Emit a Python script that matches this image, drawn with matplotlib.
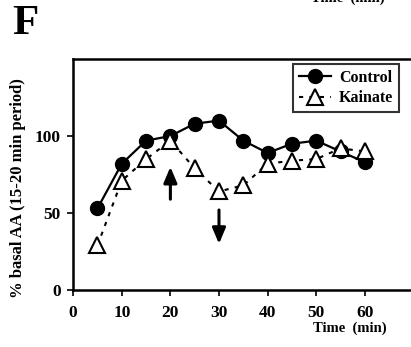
import matplotlib
matplotlib.use("Agg")
import matplotlib.pyplot as plt

# Time points (min) and % basal AA values
time_min = [5, 10, 15, 20, 25, 30, 35, 40, 45, 50, 55, 60]
control = [53, 82, 97, 100, 108, 110, 97, 89, 95, 97, 90, 83]
kainate = [29, 71, 85, 97, 79, 64, 68, 82, 84, 85, 92, 90]

x_ticks = [0, 10, 20, 30, 40, 50, 60]
y_ticks = [0, 50, 100]

# Arrows: (x, start y, end y)
up_arrow = (20, 59, 80)
down_arrow = (30, 52, 30)

serif = ["Liberation Serif", "DejaVu Serif"]
plt.rcParams["font.family"] = serif
plt.rcParams["font.weight"] = "bold"

fig = plt.figure(figsize=(4.11, 3.47), dpi=100)
ax = fig.add_axes([0.178, 0.164, 0.822, 0.666])

ax.plot(time_min, control, color="black", lw=1.6, marker="o", ms=10,
        mfc="black", mec="black", label="Control", zorder=3)
ax.plot(time_min, kainate, color="black", lw=1.5, ls=(0, (2, 3)), marker="^",
        ms=11, mfc="white", mec="black", mew=1.5, label="Kainate", zorder=4)

for (x, y0, y1) in (up_arrow, down_arrow):
    ax.annotate("", xy=(x, y1), xytext=(x, y0),
                arrowprops=dict(arrowstyle="-|>,head_length=0.95,head_width=0.4",
                                color="black", lw=2.2, shrinkA=0, shrinkB=0))

ax.set_xlim(0, 69.5)
ax.set_ylim(0, 150)
ax.set_xticks(x_ticks)
ax.set_yticks(y_ticks)
ax.tick_params(axis="both", labelsize=12.5, width=1.2, length=4)
ax.tick_params(axis="x", pad=7)
ax.tick_params(axis="y", pad=5)
for lab in ax.get_xticklabels() + ax.get_yticklabels():
    lab.set_fontweight("bold")

for s in ("left", "bottom", "top"):
    ax.spines[s].set_linewidth(1.8)
ax.spines["right"].set_visible(False)

ax.set_ylabel("% basal AA (15-20 min period)", fontsize=12, fontweight="bold")
ax.yaxis.set_label_coords(-0.14, 0.44)
fig.text(0.94, 0.035, "Time  (min)", ha="right", va="bottom", fontsize=10.5, fontweight="bold")
fig.text(0.935, 0.985, "Time  (min)", ha="right", va="bottom", fontsize=10.5, fontweight="bold")
fig.text(0.03, 0.875, "F", fontsize=31, fontweight="bold", va="bottom")

leg = ax.legend(loc="upper right", bbox_to_anchor=(0.964, 0.978), frameon=True,
                fancybox=False, edgecolor="black", fontsize=11.5, handlelength=2.0,
                borderpad=0.35, labelspacing=0.3, handletextpad=0.5, borderaxespad=0)
leg.get_frame().set_linewidth(1.5)
for t in leg.get_texts():
    t.set_fontweight("bold")

fig.savefig("out.png", dpi=100)
